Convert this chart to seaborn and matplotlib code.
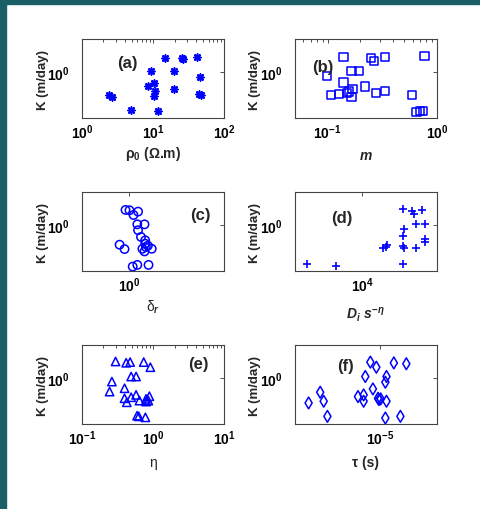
import numpy as np
import matplotlib
matplotlib.use("Agg")
import matplotlib.pyplot as plt
import matplotlib.ticker as mticker
from matplotlib.patches import Rectangle
import seaborn as sns

# --- data ---
# (a) rho_0 (Ohm.m) vs K
rho0 = [2.40, 2.67, 4.95, 11.8, 14.6, 25.1, 25.9, 41.7, 9.17, 19.8,
        45.9, 10.2, 8.5, 10.7, 10.1, 19.8, 43.5, 47.4]
K_a = [0.446, 0.42, 0.264, 0.255, 1.67, 1.63, 1.57, 1.72, 1.03, 1.03,
       0.857, 0.695, 0.604, 0.507, 0.436, 0.551, 0.463, 0.446]

# (b) chargeability m vs K
m_vals = [0.140, 0.248, 0.267, 0.334, 0.767, 0.0984, 0.166, 0.195, 0.140,
          0.108, 0.128, 0.150, 0.158, 0.169, 0.166, 0.220, 0.277, 0.334,
          0.589, 0.649, 0.695, 0.746]
K_b = [1.71, 1.63, 1.47, 1.71, 1.77, 0.877, 1.04, 1.04, 0.695,
       0.451, 0.462, 0.479, 0.507, 0.551, 0.421, 0.604, 0.479, 0.519,
       0.446, 0.246, 0.255, 0.258]

# (c) delta_r vs K
delta_r = [0.953, 1.0, 1.05, 1.11, 1.10, 1.20, 1.11, 1.15, 1.21, 0.887,
           0.942, 1.17, 1.22, 1.20, 1.31, 1.25, 1.21, 1.04, 1.10, 1.26]
K_c = [1.71, 1.69, 1.43, 1.61, 1.03, 1.03, 0.838, 0.661, 0.587, 0.503,
       0.431, 0.436, 0.463, 0.397, 0.436, 0.486, 0.521, 0.233, 0.247, 0.247]

# (d) D_i s^-eta vs K
D_i = [2704, 5330, 16500, 18300, 17900, 26700, 33000, 34400, 42000,
       36100, 44700, 27100, 26700, 26700, 27100, 36600, 44700, 44700, 26700]
K_d = [0.252, 0.238, 0.444, 0.493, 0.465, 1.76, 1.62, 1.47, 1.69,
       1.03, 1.03, 0.867, 0.685, 0.482, 0.444, 0.444, 0.610, 0.555, 0.252]

# (e) eta vs K
eta = [0.296, 0.417, 0.474, 0.736, 0.912, 0.490, 0.575, 0.263, 0.244,
       0.396, 0.575, 0.490, 0.396, 0.426, 0.641, 0.794, 0.884, 0.855,
       0.794, 0.594, 0.627, 0.777]
K_e = [1.80, 1.72, 1.76, 1.76, 1.47, 1.06, 1.06, 0.887, 0.624,
       0.701, 0.555, 0.511, 0.493, 0.428, 0.454, 0.482, 0.530, 0.454,
       0.439, 0.267, 0.261, 0.252]

# (f) tau (s) vs K
tau = [8.55e-6, 9.42e-6, 1.25e-5, 1.53e-5, 7.88e-6, 1.11e-5, 1.09e-5,
       8.91e-6, 3.80e-6, 4.02e-6, 3.15e-6, 7.00e-6, 7.67e-6, 7.67e-6,
       9.68e-6, 9.84e-6, 1.01e-5, 1.11e-5, 4.27e-6, 1.09e-5, 1.39e-5]
K_f = [1.76, 1.47, 1.71, 1.66, 1.06, 1.06, 0.867, 0.685, 0.610, 0.444,
       0.418, 0.523, 0.555, 0.444, 0.493, 0.471, 0.482, 0.444, 0.261,
       0.246, 0.261]

x_labels = ['ρ$_0$ (Ω.m)', '$\\mathit{m}$', 'δ$_r$', '$D_i\\ s^{-\\eta}$', 'η', 'τ (s)']
panel_tags = ['(a)', '(b)', '(c)', '(d)', '(e)', '(f)']

sns.set_style("white")
plt.rcParams['font.family'] = ['Liberation Sans', 'DejaVu Sans']
plt.rcParams['mathtext.fontset'] = 'custom'
plt.rcParams['mathtext.rm'] = 'Liberation Sans:bold'
plt.rcParams['mathtext.it'] = 'Liberation Sans:bold:italic'
plt.rcParams['mathtext.bf'] = 'Liberation Sans:bold'

fig = plt.figure(figsize=(4.81, 5.10), dpi=100)
fig.patches.append(Rectangle((0, 0), 6 / 481, 1, transform=fig.transFigure,
                             color='#1b5f66', zorder=10))
fig.patches.append(Rectangle((0, 1 - 5 / 510), 1, 5 / 510, transform=fig.transFigure,
                             color='#1b5f66', zorder=10))

w, h = 0.296, 0.154
lefts = [0.1705, 0.6125]
bottoms = [0.7667, 0.4667, 0.1667]

blue = '#0000ff'
panels = [
    (rho0, K_a, (8, 2, 0), (1, 100), [1, 10, 100], True),
    (m_vals, K_b, 's', (0.05, 1), [0.1, 1], True),
    (delta_r, K_c, 'o', (10 ** -0.25, 10 ** 0.5), [1], False),
    (D_i, K_d, '+', (2000, 60000), [1e4], False),
    (eta, K_e, '^', (0.1, 10), [0.1, 1, 10], True),
    (tau, K_f, 'd', (10 ** -5.6, 10 ** -4.6), [1e-5], False),
]
tag_pos = [(0.32, 0.71), (0.20, 0.66), (0.83, 0.72), (0.33, 0.68), (0.82, 0.77), (0.36, 0.74)]
xlab_y = [-0.44, -0.47, -0.45, -0.55, -0.49, -0.49]

fmt = mticker.FuncFormatter(lambda v, p: r'$\mathrm{10^{%d}}$' % round(np.log10(v)))

for i, (xv, yv, mk, xl, xt, minor) in enumerate(panels):
    r, c = divmod(i, 2)
    ax = fig.add_axes([lefts[c], bottoms[r], w, h])
    if mk in ('+', (8, 2, 0)):
        size = 32 if mk == '+' else 24
        sns.scatterplot(x=xv, y=yv, ax=ax, marker=mk, s=size, color=blue, linewidth=1.2)
    else:
        sns.scatterplot(x=xv, y=yv, ax=ax, marker=mk, s=36, facecolor='none',
                        edgecolor=blue, linewidth=1.1)
    ax.set_xscale('log')
    ax.set_yscale('log')
    ax.set_xlim(*xl)
    ax.set_ylim(10 ** -0.7, 10 ** 0.5)
    ax.set_xticks(xt)
    ax.set_yticks([1])
    ax.xaxis.set_major_formatter(fmt)
    ax.yaxis.set_major_formatter(fmt)
    ax.yaxis.set_minor_locator(mticker.NullLocator())
    if minor:
        ax.xaxis.set_minor_locator(mticker.LogLocator(base=10, subs=np.arange(2, 10)))
    else:
        ax.xaxis.set_minor_locator(mticker.NullLocator())
    ax.xaxis.set_minor_formatter(mticker.NullFormatter())
    ax.tick_params(which='both', direction='in', top=True, right=True,
                   labelsize=10, width=0.6, colors='#333333', labelcolor='black')
    ax.tick_params(which='major', length=3)
    ax.tick_params(which='minor', length=2)
    ax.tick_params(axis='x', pad=3)
    ax.tick_params(axis='y', pad=9)
    for sp in ax.spines.values():
        sp.set_linewidth(0.8)
        sp.set_color('#444444')
    ax.set_xlabel('')
    ax.set_ylabel('')
    ax.text(-0.275, 0.5, 'K (m/day)', rotation=90, transform=ax.transAxes,
            ha='center', va='center', fontsize=9.5, fontweight='bold')
    ax.text(0.5, xlab_y[i], x_labels[i], transform=ax.transAxes,
            ha='center', va='center', fontsize=10,
            fontweight='bold' if i in (0, 1, 3, 5) else 'normal')
    ax.text(tag_pos[i][0], tag_pos[i][1], panel_tags[i], transform=ax.transAxes,
            ha='center', va='center', fontsize=12, fontweight='bold')

fig.savefig('out.png', dpi=100)
